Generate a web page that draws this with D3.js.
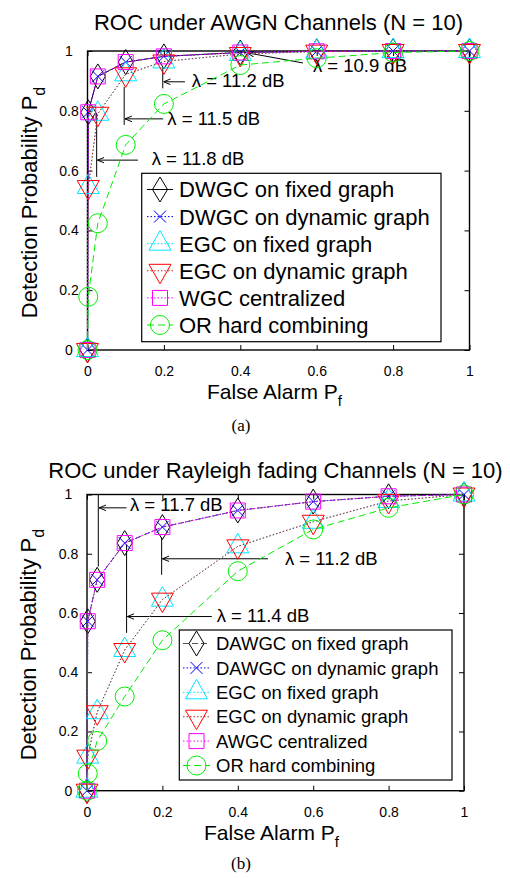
<!DOCTYPE html>
<html>
<head>
<meta charset="utf-8">
<script src="https://cdn.jsdelivr.net/npm/d3@7"></script>
<style>
  body { margin: 0; background: #fff; }
  svg { display: block; }
  text { font-family: "Liberation Sans", Arial, Helvetica, sans-serif; fill: #000; }
</style>
</head>
<body>
<div id="fig"></div>
<script>
const canvas_w = 510;
const canvas_h = 878;

// ---- data: panel (a), AWGN channels ----
const pfA          = [0, 0.002, 0.027, 0.1, 0.2, 0.4, 0.6, 0.8, 1];
const dwgcFixedA   = [0, 0.795, 0.915, 0.963, 0.982, 0.995, 0.999, 1, 1];
const dwgcDynA     = [0, 0.795, 0.915, 0.963, 0.982, 0.995, 0.999, 1, 1];
const egcFixedA    = [0, 0.545, 0.79, 0.922, 0.965, 0.99, 0.998, 1, 1];
const egcDynA      = [0, 0.545, 0.79, 0.922, 0.965, 0.99, 0.998, 1, 1];
const wgcCentA     = [0, 0.795, 0.915, 0.963, 0.982, 0.995, 0.999, 1, 1];
const orHardA      = [0, 0.178, 0.424, 0.686, 0.823, 0.953, 0.976, 0.995, 1];
const namesA = ['DWGC on fixed graph', 'DWGC on dynamic graph', 'EGC on fixed graph',
                'EGC on dynamic graph', 'WGC centralized', 'OR hard combining'];

// ---- data: panel (b), Rayleigh fading channels ----
const pfB          = [0, 0.002, 0.027, 0.1, 0.2, 0.4, 0.6, 0.8, 1];
const dawgcFixedB  = [0, 0.572, 0.712, 0.836, 0.89, 0.946, 0.976, 0.994, 1];
const dawgcDynB    = [0, 0.572, 0.712, 0.836, 0.89, 0.946, 0.976, 0.994, 1];
const egcFixedB    = [0, 0.115, 0.265, 0.475, 0.645, 0.825, 0.908, 0.978, 1];
const egcDynB      = [0, 0.115, 0.265, 0.475, 0.645, 0.825, 0.908, 0.978, 1];
const awgcCentB    = [0, 0.572, 0.712, 0.836, 0.89, 0.946, 0.976, 0.994, 1];
const orHardB      = [0, 0.058, 0.168, 0.318, 0.508, 0.741, 0.882, 0.955, 1];
const namesB = ['DAWGC on fixed graph', 'DAWGC on dynamic graph', 'EGC on fixed graph',
                'EGC on dynamic graph', 'AWGC centralized', 'OR hard combining'];

const tickVals   = [0, 0.2, 0.4, 0.6, 0.8, 1];
const tickLabels = ['0', '0.2', '0.4', '0.6', '0.8', '1'];

// threshold annotations, in data units: vertical line (x, y0..y1), arrow (ax0 -> ax1 at ay), label
const notesA = [
  { lbl: 'λ = 11.8 dB', x: 0.024, y0: 0.793, y1: 0.579, ay: 0.635, ax0: 0.132, ax1: 0.026, tx: 0.168, ty: 0.619 },
  { lbl: 'λ = 11.5 dB', x: 0.096, y0: 0.88,  y1: 0.753, ay: 0.773, ax0: 0.198, ax1: 0.098, tx: 0.209, ty: 0.753 },
  { lbl: 'λ = 11.2 dB', x: 0.197, y0: 0.947, y1: 0.875, ay: 0.897, ax0: 0.255, ax1: 0.199, tx: 0.273, ty: 0.88 }
];
const diagA = { lbl: 'λ = 10.9 dB', x0: 0.564, y0: 0.96, x1: 0.418, y1: 0.994, tx: 0.59, ty: 0.93 };
const notesB = [
  { lbl: 'λ = 11.7 dB', x: 0.03,  y0: 1.0,   y1: 0.757, ay: 0.955, ax0: 0.105, ax1: 0.032, tx: 0.114, ty: 0.944 },
  { lbl: 'λ = 11.4 dB', x: 0.105, y0: 0.831, y1: 0.533, ay: 0.588, ax0: 0.331, ax1: 0.107, tx: 0.344, ty: 0.571 },
  { lbl: 'λ = 11.2 dB', x: 0.198, y0: 0.855, y1: 0.729, ay: 0.783, ax0: 0.48,  ax1: 0.2,   tx: 0.525, ty: 0.763 }
];

// marker shapes (centred on the point)
const markers = {
  diamond: 'M0,-12.5L7.5,0L0,12.5L-7.5,0Z',
  cross:   'M-6,-6L6,6M-6,6L6,-6',
  triUp:   'M0,-13L11,6.5L-11,6.5Z',
  triDown: 'M0,13L11,-6.5L-11,-6.5Z',
  square:  'M-7.5,-7.5h15v15h-15Z',
  circle:  'M9.5,0A9.5,9.5 0 1,1 -9.5,0A9.5,9.5 0 1,1 9.5,0Z'
};

const svg = d3.select('#fig').append('svg')
    .attr('width', canvas_w)
    .attr('height', canvas_h);

const defs = svg.append('defs');
defs.append('marker')
    .attr('id', 'head')
    .attr('viewBox', '0 -5 10 10')
    .attr('refX', 10).attr('refY', 0)
    .attr('markerWidth', 7).attr('markerHeight', 7)
    .attr('markerUnits', 'userSpaceOnUse')
    .attr('orient', 'auto')
  .append('path')
    .attr('d', 'M0,-4L10,0L0,4')
    .attr('fill', 'none')
    .attr('stroke', '#000')
    .attr('stroke-width', 1.4);

function drawPanel(p) {
  const x = d3.scaleLinear().domain([0, 1]).range([p.left, p.right]);
  const y = d3.scaleLinear().domain([0, 1]).range([p.bottom, p.top]);
  const g = svg.append('g');

  // ticks on all four sides, pointing inwards
  g.append('g').attr('transform', `translate(0,${p.bottom})`)
      .call(d3.axisBottom(x).tickValues(tickVals).tickSizeInner(-5).tickSizeOuter(0)
             .tickPadding(16).tickFormat((d, i) => tickLabels[i]));
  const axL = g.append('g').attr('transform', `translate(${p.left},0)`)
      .call(d3.axisLeft(y).tickValues(tickVals).tickSizeInner(-5).tickSizeOuter(0)
             .tickFormat((d, i) => tickLabels[i]));
  g.append('g').attr('transform', `translate(0,${p.top})`)
      .call(d3.axisTop(x).tickValues(tickVals).tickSizeInner(-5).tickSizeOuter(0).tickFormat(''));
  g.append('g').attr('transform', `translate(${p.right},0)`)
      .call(d3.axisRight(y).tickValues(tickVals).tickSizeInner(-5).tickSizeOuter(0).tickFormat(''));
  g.selectAll('.domain').remove();
  g.selectAll('.tick line').attr('stroke', '#000').attr('stroke-width', 1);
  g.selectAll('.tick text').attr('font-size', 14).attr('font-family', '"Liberation Sans", Arial, sans-serif');
  axL.selectAll('.tick text').attr('text-anchor', 'middle').attr('x', -18.5);

  g.append('rect')
      .attr('x', p.left).attr('y', p.top)
      .attr('width', p.right - p.left).attr('height', p.bottom - p.top)
      .attr('fill', 'none').attr('stroke', '#000').attr('stroke-width', 1.4);

  // title and axis labels
  g.append('text')
      .attr('x', (p.left + p.right) / 2).attr('y', p.titleY)
      .attr('text-anchor', 'middle').attr('font-size', 22)
      .text(p.title);
  const xl = g.append('text')
      .attr('x', (p.left + p.right) / 2 - 4).attr('y', p.bottom + 49)
      .attr('text-anchor', 'middle').attr('font-size', 21);
  xl.append('tspan').text('False Alarm P');
  xl.append('tspan').attr('dy', 7).attr('font-size', 15).text('f');
  const yl = g.append('text')
      .attr('transform', `translate(${p.left - 51},${(p.top + p.bottom) / 2 + 2}) rotate(-90)`)
      .attr('text-anchor', 'middle').attr('font-size', 22);
  yl.append('tspan').text('Detection Probability P');
  yl.append('tspan').attr('dy', 8).attr('font-size', 16).text('d');
  g.append('text')
      .attr('x', 241).attr('y', p.capY)
      .attr('text-anchor', 'middle').attr('font-size', 17)
      .style('font-family', '"Liberation Serif", "Times New Roman", serif')
      .text(p.caption);

  // annotations
  p.notes.forEach(n => {
    g.append('line').attr('x1', x(n.x)).attr('x2', x(n.x)).attr('y1', y(n.y0)).attr('y2', y(n.y1))
        .attr('stroke', '#000').attr('stroke-width', 1);
    g.append('line').attr('x1', x(n.ax0)).attr('x2', x(n.ax1)).attr('y1', y(n.ay)).attr('y2', y(n.ay))
        .attr('stroke', '#000').attr('stroke-width', 1).attr('marker-end', 'url(#head)');
    g.append('text').attr('x', x(n.tx)).attr('y', y(n.ty)).attr('font-size', 18.5).text(n.lbl);
  });
  if (p.diag) {
    const d = p.diag;
    g.append('line').attr('x1', x(d.x0)).attr('y1', y(d.y0)).attr('x2', x(d.x1)).attr('y2', y(d.y1))
        .attr('stroke', '#000').attr('stroke-width', 1).attr('marker-end', 'url(#head)');
    g.append('text').attr('x', x(d.tx)).attr('y', y(d.ty)).attr('font-size', 18.5).text(d.lbl);
  }

  // series: line then markers, in plotting order
  const line = d3.line().x(d => x(d[0])).y(d => y(d[1]));
  p.series.forEach(s => {
    const pts = p.pf.map((v, i) => [v, s.values[i]]);
    g.append('path').attr('d', line(pts))
        .attr('fill', 'none').attr('stroke', s.lineColor || s.color)
        .attr('stroke-width', 1).attr('stroke-dasharray', s.dash);
    g.selectAll(null).data(pts).enter().append('path')
        .attr('d', markers[s.marker])
        .attr('transform', d => `translate(${x(d[0])},${y(d[1])})`)
        .attr('fill', 'none').attr('stroke', s.color).attr('stroke-width', 1);
  });

  // legend
  const lg = p.legend;
  g.append('rect')
      .attr('x', lg.x0).attr('y', lg.y0)
      .attr('width', lg.x1 - lg.x0).attr('height', lg.y1 - lg.y0)
      .attr('fill', '#fff').attr('stroke', '#000').attr('stroke-width', 1.2);
  p.series.forEach((s, i) => {
    const cy = lg.row0 + i * lg.step;
    g.append('line').attr('x1', lg.ls).attr('x2', lg.le).attr('y1', cy).attr('y2', cy)
        .attr('stroke', s.lineColor || s.color).attr('stroke-width', 1).attr('stroke-dasharray', s.legDash || s.dash);
    g.append('path').attr('d', markers[s.marker])
        .attr('transform', `translate(${(lg.ls + lg.le) / 2},${cy})`)
        .attr('fill', 'none').attr('stroke', s.color).attr('stroke-width', 1);
    g.append('text').attr('x', lg.tx).attr('y', cy).attr('dy', '0.36em')
        .attr('font-size', lg.fs).text(p.names[i]);
  });
}

drawPanel({
  left: 87.5, right: 469.5, top: 51, bottom: 350,
  title: 'ROC under AWGN Channels (N = 10)', titleY: 30,
  caption: '(a)', capY: 431,
  pf: pfA, names: namesA, notes: notesA, diag: diagA,
  series: [
    { values: dwgcFixedA, color: '#000', dash: null, marker: 'diamond' },
    { values: dwgcDynA,   color: '#0000ff', dash: '1.5,2', marker: 'cross' },
    { values: egcFixedA,  color: '#00e5ff', dash: '1.5,2', marker: 'triUp' },
    { values: egcDynA,    color: '#ff0000', lineColor: '#c02020', dash: '1.5,2', marker: 'triDown' },
    { values: wgcCentA,   color: '#ff00ff', dash: '1.5,2', marker: 'square' },
    { values: orHardA,    color: '#00ee00', dash: '7,4', marker: 'circle' }
  ],
  legend: { x0: 141.7, x1: 441, y0: 173.3, y1: 341.7, row0: 189.5, step: 27.1,
            ls: 147, le: 173, tx: 179, fs: 22 }
});

drawPanel({
  left: 87, right: 464, top: 494.5, bottom: 790.7,
  title: 'ROC under Rayleigh fading Channels (N = 10)', titleY: 478,
  caption: '(b)', capY: 869,
  pf: pfB, names: namesB, notes: notesB, diag: null,
  series: [
    { values: dawgcFixedB, color: '#000', lineColor: '#555', dash: '6,3', marker: 'diamond' },
    { values: dawgcDynB,   color: '#0000ff', dash: '1.5,2', marker: 'cross' },
    { values: egcFixedB,   color: '#00e5ff', dash: '1.5,2', marker: 'triUp' },
    { values: egcDynB,     color: '#ff0000', lineColor: '#c02020', dash: '1.5,2', marker: 'triDown' },
    { values: awgcCentB,   color: '#ff00ff', dash: '1.5,2', marker: 'square' },
    { values: orHardB,     color: '#00ee00', dash: '7,4', marker: 'circle' }
  ],
  legend: { x0: 179.3, x1: 452, y0: 630, y1: 780, row0: 643.5, step: 24.4,
            ls: 183, le: 210, tx: 216, fs: 18.5 }
});
</script>
</body>
</html>
